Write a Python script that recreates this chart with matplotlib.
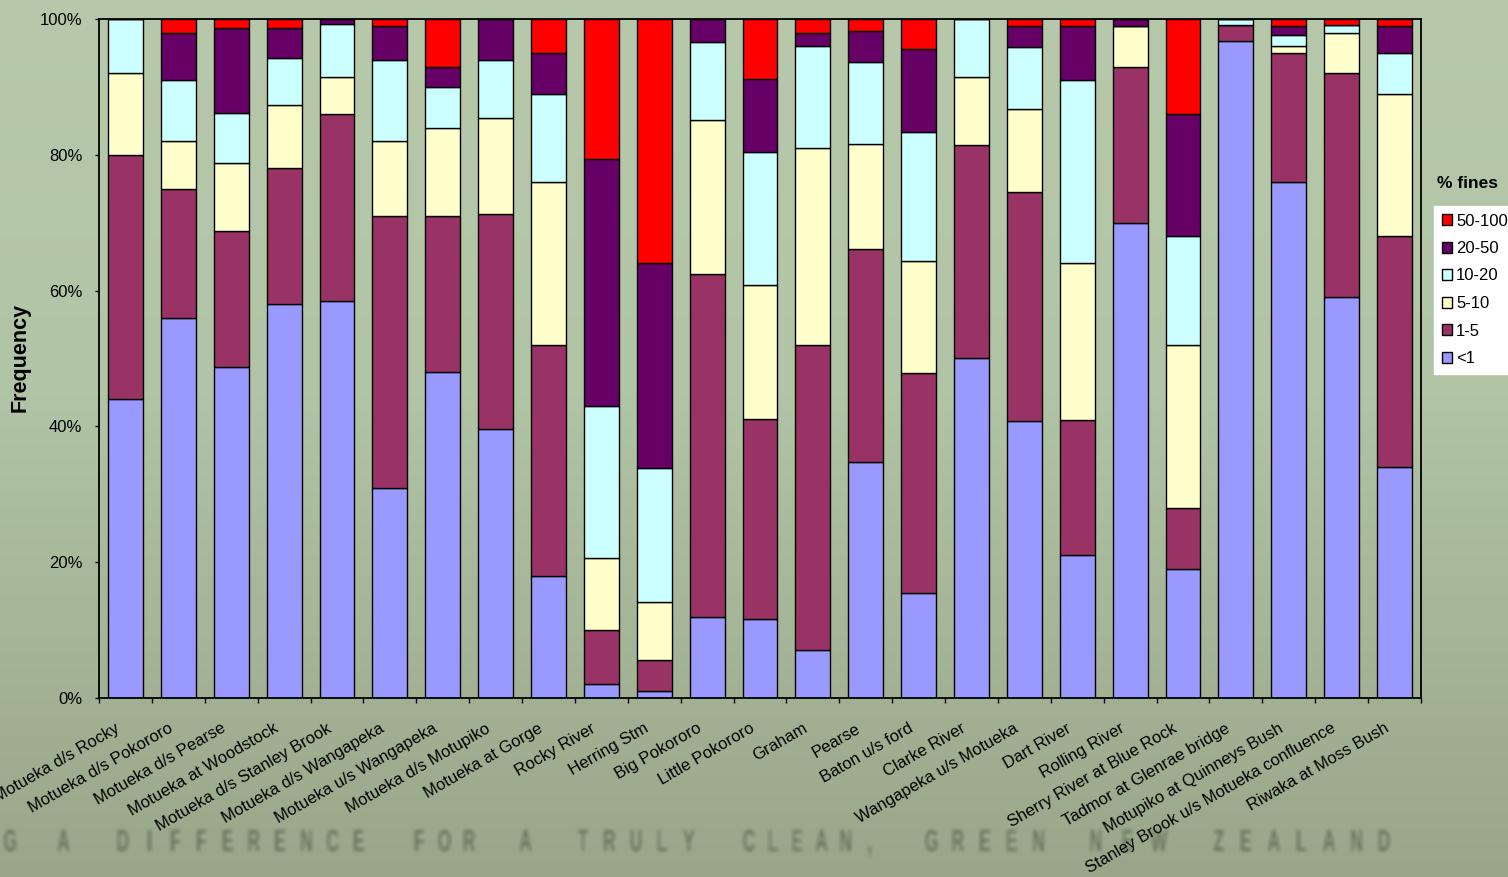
import numpy as np
import matplotlib
matplotlib.use("Agg")
import matplotlib.pyplot as plt
from matplotlib.textpath import TextPath
from matplotlib.font_manager import FontProperties
from matplotlib.patches import PathPatch
from matplotlib.transforms import Affine2D, IdentityTransform, ScaledTranslation

plt.rcParams['font.family'] = ['Liberation Sans', 'DejaVu Sans']

# ---------------------------------------------------------------- data
sites = [
    "Motueka d/s Rocky", "Motueka d/s Pokororo", "Motueka d/s Pearse",
    "Motueka at Woodstock", "Motueka d/s Stanley Brook", "Motueka d/s Wangapeka",
    "Motueka u/s Wangapeka", "Motueka d/s Motupiko", "Motueka at Gorge",
    "Rocky River", "Herring Stm", "Big Pokororo", "Little Pokororo", "Graham",
    "Pearse", "Baton u/s ford", "Clarke River", "Wangapeka u/s Motueka",
    "Dart River", "Rolling River", "Sherry River at Blue Rock",
    "Tadmor at Glenrae bridge", "Motupiko at Quinneys Bush",
    "Stanley Brook u/s Motueka confluence", "Riwaka at Moss Bush",
]

size_classes = ["<1", "1-5", "5-10", "10-20", "20-50", "50-100"]

# percentage of samples in each fines class, per site
pct_lt1 = [44, 56, 48.7, 58, 58.5, 31, 48, 39.6, 18, 2, 1, 12, 11.7, 7,
           34.8, 15.5, 50, 40.8, 21, 70, 19, 96.8, 76, 59, 34]
pct_1_5 = [36, 19, 20.1, 20.1, 27.5, 40, 23, 31.7, 34, 8, 4.6, 50.4, 29.4, 45,
           31.3, 32.3, 31.4, 33.7, 20, 23, 9, 2.3, 19, 33, 34]
pct_5_10 = [12, 7, 10.0, 9.3, 5.5, 11, 13, 14.1, 24, 10.6, 8.5, 22.7, 19.7, 29,
            15.5, 16.6, 10, 12.3, 23, 6, 24, 0, 1, 6, 21]
pct_10_20 = [8, 9, 7.4, 6.9, 7.8, 12, 6, 8.6, 13, 22.4, 19.8, 11.5, 19.6, 15,
             12.0, 18.9, 8.6, 9.1, 27, 0, 16, 0.9, 1.7, 1.1, 6]
pct_20_50 = [0, 7, 12.5, 4.4, 0.7, 5, 3, 6.0, 6, 36.4, 30.2, 3.4, 10.8, 2,
             4.6, 12.3, 0, 3.1, 8, 1, 18, 0, 1.3, 0, 4]
pct_50_100 = [0, 2, 1.3, 1.3, 0, 1, 7, 0, 5, 20.6, 35.9, 0, 8.8, 2,
              1.8, 4.4, 0, 1.0, 1, 0, 14, 0, 1, 0.9, 1]

class_values = [pct_lt1, pct_1_5, pct_5_10, pct_10_20, pct_20_50, pct_50_100]
class_colors = ["#9999FF", "#993366", "#FFFFCC", "#CCFFFF", "#660066", "#FF0000"]

# ---------------------------------------------------------------- canvas
W, H, DPI = 1508, 877, 100
fig = plt.figure(figsize=(W / DPI, H / DPI), dpi=DPI)

# sage-green vertical gradient backdrop
yy = np.linspace(0, 1, H)
stops = [0.0, 0.45, 1.0]
stop_cols = np.array([[183, 201, 170], [177, 196, 165], [153, 166, 138]]) / 255.0
rgb = np.stack([np.interp(yy, stops, stop_cols[:, i]) for i in range(3)], axis=1)
backdrop = np.repeat(rgb[:, None, :], W, axis=1)

# soft slogan lettering across the foot of the slide
wm = plt.figure(figsize=(W / DPI, H / DPI), dpi=DPI)
wm.patch.set_alpha(0)
slogan = [("G", 3, 17), ("A", 55, 72), ("DIFFERENCE", 110, 372), ("FOR", 407, 482),
          ("A", 517, 534), ("TRULY", 570, 702), ("CLEAN,", 737, 882),
          ("GREEN", 918, 1052), ("NEW", 1080, 1175), ("ZEALAND", 1205, 1398)]
fp = FontProperties(family="Liberation Sans", weight="bold")
baseline = H - 851
for word, x0, x1 in slogan:
    step = (x1 - x0) / len(word)
    for i, ch in enumerate(word):
        cx = x0 + (i + 0.5) * step
        tp = TextPath((0, 0), ch, size=30, prop=fp)
        ext = tp.get_extents()
        tr = Affine2D().translate(-(ext.x0 + ext.x1) / 2, 0).scale(0.58, 1.02).translate(cx, baseline)
        wm.add_artist(PathPatch(tr.transform_path(tp), facecolor="black",
                                edgecolor="none", transform=IdentityTransform()))
wm.canvas.draw()
alpha = np.asarray(wm.canvas.buffer_rgba())[..., 3].astype(float) / 255.0
plt.close(wm)


def box_blur(a, r):
    k = 2 * r + 1
    p = np.pad(a, r, mode="edge")
    c = np.cumsum(p, axis=0)
    c = np.vstack([np.zeros((1, c.shape[1])), c])
    a = (c[k:] - c[:-k]) / k
    c = np.cumsum(a, axis=1)
    c = np.hstack([np.zeros((c.shape[0], 1)), c])
    return (c[:, k:] - c[:, :-k]) / k


alpha = np.clip(box_blur(box_blur(alpha, 2), 1) * 1.05, 0, 1) * 0.85
ink = np.array([98, 112, 88]) / 255.0
backdrop = backdrop * (1 - alpha[..., None]) + ink * alpha[..., None]

bgax = fig.add_axes([0, 0, 1, 1], zorder=-10)
bgax.imshow(backdrop, aspect="auto", interpolation="nearest")
bgax.set_axis_off()

# ---------------------------------------------------------------- stacked bars
ax = fig.add_axes([99 / W, 1 - 698 / H, (1421 - 99) / W, (698 - 19) / H])
ax.patch.set_alpha(0)

x = np.arange(len(sites))
bottom = np.zeros(len(sites))
handles = []
for vals, col, lab in zip(class_values, class_colors, size_classes):
    vals = np.asarray(vals, dtype=float)
    bc = ax.bar(x, vals, 0.66, bottom=bottom, color=col, edgecolor="black",
                linewidth=1.0, label=lab, zorder=2)
    bottom += vals
    handles.append(bc)

ax.set_xlim(-0.5, len(sites) - 0.5)
ax.set_ylim(0, 100)
ax.set_yticks(np.arange(0, 101, 20))
ax.set_yticklabels([f"{v}%" for v in range(0, 101, 20)])
ax.set_xticks(x)
ax.set_xticklabels(sites, rotation=30, ha="right", va="center",
                   rotation_mode="anchor", fontsize=12)
ax.set_xticks(np.arange(-0.5, len(sites)), minor=True)
ax.tick_params(axis="x", which="major", length=0, pad=21)
ax.tick_params(axis="x", which="minor", length=3.6, width=1.0, direction="out")
ax.tick_params(axis="y", length=3, width=1.0, direction="out", pad=9, labelsize=12)
shift = ScaledTranslation(-0.07, 0, fig.dpi_scale_trans)
for lab in ax.get_xticklabels():
    lab.set_transform(lab.get_transform() + shift)
for sp in ax.spines.values():
    sp.set_linewidth(1.3)
    sp.set_color("black")
    sp.set_zorder(3)

fig.text(20.5 / W, 1 - 357.5 / H, "Frequency", rotation=90, ha="center",
         va="center", fontsize=15.5, fontweight="bold")

# ---------------------------------------------------------------- legend
fig.text(1437 / W, 1 - 184 / H, "% fines", ha="left", va="center",
         fontsize=12.5, fontweight="bold")
leg = fig.legend(handles[::-1], size_classes[::-1], loc="upper left",
                 bbox_to_anchor=(1434 / W, 1 - 206 / H), borderaxespad=0,
                 frameon=True, fancybox=False, facecolor="white",
                 edgecolor="white", framealpha=1, fontsize=12,
                 handlelength=0.62, handleheight=0.62, handletextpad=0.25,
                 labelspacing=0.75, borderpad=0.45)

fig.savefig("out.png", dpi=DPI)
